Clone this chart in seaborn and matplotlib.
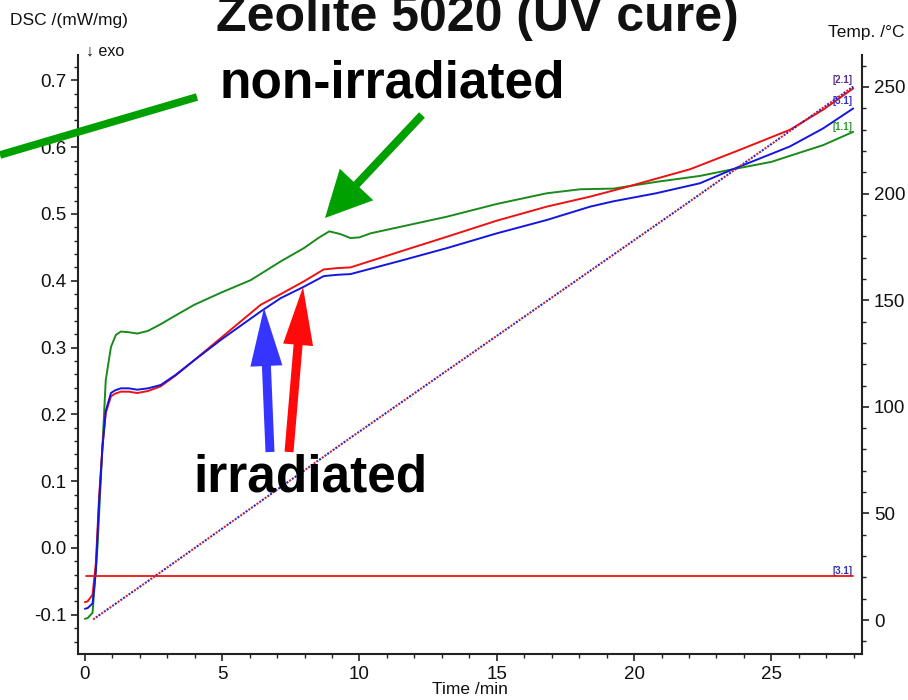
import numpy as np
import pandas as pd
import matplotlib
matplotlib.use("Agg")
import matplotlib.pyplot as plt
import matplotlib.transforms as mtrans
from matplotlib.patches import FancyArrow
from matplotlib.ticker import MultipleLocator
import seaborn as sns

# ---------------- data ----------------
t_green = [0.0, 0.1, 0.28, 0.46, 0.64, 0.76, 0.95, 1.13, 1.31, 1.6, 1.91, 2.3, 2.76, 3.3,
           3.98, 5.0, 6.04, 7.13, 7.98, 8.5, 8.9, 9.3, 9.67, 10.0, 10.4, 13.19, 15.0,
           16.82, 18.04, 19.25, 20.8, 22.4, 23.6, 25.0, 25.67, 26.88, 27.98]
dsc_green = [-0.106, -0.105, -0.097, 0.002, 0.152, 0.251, 0.301, 0.319, 0.324, 0.323, 0.321,
             0.325, 0.335, 0.348, 0.364, 0.383, 0.401, 0.429, 0.449, 0.464, 0.474, 0.470,
             0.464, 0.465, 0.471, 0.496, 0.515, 0.531, 0.537, 0.538, 0.548, 0.557, 0.567,
             0.578, 0.587, 0.603, 0.623]

t_red = [0.0, 0.1, 0.28, 0.4, 0.52, 0.64, 0.76, 0.95, 1.1, 1.31, 1.6, 1.91, 2.3, 2.76, 3.3,
         3.98, 5.0, 6.4, 7.13, 7.97, 8.7, 9.2, 9.67, 11.5, 13.19, 15.0, 16.82, 18.4, 19.6,
         22.04, 23.85, 25.67, 26.88, 27.98]
dsc_red = [-0.081, -0.080, -0.070, -0.023, 0.077, 0.152, 0.202, 0.227, 0.231, 0.234, 0.234,
           0.232, 0.235, 0.242, 0.258, 0.281, 0.316, 0.364, 0.380, 0.399, 0.417, 0.419,
           0.420, 0.444, 0.466, 0.490, 0.511, 0.526, 0.539, 0.567, 0.596, 0.626, 0.656,
           0.688]

t_blue = [0.0, 0.1, 0.28, 0.4, 0.52, 0.64, 0.76, 0.95, 1.1, 1.31, 1.6, 1.91, 2.3, 2.76, 3.3,
          3.98, 5.0, 6.4, 7.13, 7.97, 8.7, 9.2, 9.67, 11.5, 13.19, 15.0, 16.82, 18.4, 19.25,
          20.8, 22.4, 23.6, 25.67, 26.88, 27.98]
dsc_blue = [-0.091, -0.090, -0.083, -0.035, 0.070, 0.150, 0.205, 0.232, 0.236, 0.239, 0.239,
            0.237, 0.239, 0.244, 0.259, 0.281, 0.313, 0.354, 0.374, 0.391, 0.407, 0.409,
            0.410, 0.430, 0.449, 0.471, 0.491, 0.511, 0.519, 0.531, 0.546, 0.567, 0.601,
            0.628, 0.658]

t_temp = [0.3, 2.52, 9.55, 21.67, 27.98]
temp = [0.3, 20.3, 84.4, 193.1, 250.2]

t_iso = [0.04, 27.98]
temp_iso = [20.6, 20.6]

samples = ["[1.1]", "[2.1]", "[3.1]"]
colors = {"[1.1]": "#1a8a1a", "[2.1]": "#ee1111", "[3.1]": "#1515e0"}

title = "Zeolite 5020 (UV cure)"

# ---------------- figure ----------------
sns.set_theme(style="ticks")
plt.rcParams["font.family"] = ["Liberation Sans", "DejaVu Sans"]

W, H = 908, 700
fig = plt.figure(figsize=(W / 100, H / 100), dpi=100)
ax = fig.add_axes([78 / W, 46 / H, (862 - 78) / W, (654 - 55) / H])
ax2 = ax.twinx()

df = pd.concat([
    pd.DataFrame({"time": t_green, "dsc": dsc_green, "sample": "[1.1]"}),
    pd.DataFrame({"time": t_red, "dsc": dsc_red, "sample": "[2.1]"}),
    pd.DataFrame({"time": t_blue, "dsc": dsc_blue, "sample": "[3.1]"}),
])
sns.lineplot(data=df, x="time", y="dsc", hue="sample", palette=colors,
             hue_order=samples, lw=1.4, ax=ax, legend=False, sort=False,
             estimator=None)

tdf = pd.DataFrame({"time": t_temp, "temp": temp})
for c, off in [("#dd2222", 0), ("#2222dd", 1.6), ("#6a2a8a", 3.2)]:
    sns.lineplot(data=tdf, x="time", y="temp", color=c, lw=1.5, ax=ax2,
                 linestyle=(off, (1.0, 3.8)))
idf = pd.DataFrame({"time": t_iso, "temp": temp_iso})
sns.lineplot(data=idf, x="time", y="temp", color="#ee1111", lw=1.3, ax=ax2)

ax.set_xlim(-0.25, 28.3)
ax.set_ylim(-0.1587, 0.738)
ax2.set_ylim(-15.9, 265.0)

ax.set_xlabel("")
ax.set_ylabel("")
ax2.set_xlabel("")
ax2.set_ylabel("")

ax.xaxis.set_major_locator(MultipleLocator(5))
ax.xaxis.set_minor_locator(MultipleLocator(1))
ax.yaxis.set_minor_locator(MultipleLocator(0.02))
ax2.yaxis.set_major_locator(MultipleLocator(50))
ax2.yaxis.set_minor_locator(MultipleLocator(10))
yt = np.round(np.arange(-0.1, 0.71, 0.1), 1)
ax.set_yticks(yt)
ax.set_yticklabels([f"{v:.1f}" for v in yt])

for a in (ax, ax2):
    a.tick_params(which="major", direction="out", length=5, width=1.2,
                  labelsize=13.5, colors="#222222", labelcolor="#111111")
    a.tick_params(which="minor", direction="out", length=3, width=1.0,
                  colors="#222222")
    for s in a.spines.values():
        s.set_linewidth(1.5)
        s.set_color("#222222")
    a.spines["top"].set_visible(False)
ax.spines["right"].set_visible(False)
ax2.spines["left"].set_visible(False)
ax2.spines["bottom"].set_visible(False)

# end labels
lab_kw = dict(fontsize=7, ha="center", va="center", fontweight="bold")
ax.text(27.6, 0.700, "[2.1]", color="#5a2d8a", **lab_kw)
ax.text(27.6, 0.669, "[3.1]", color="#3333cc", **lab_kw)
ax.text(27.6, 0.630, "[1.1]", color="#339933", **lab_kw)
ax.text(27.6, -0.034, "[3.1]", color="#3333aa", **lab_kw)

# axis texts
fig.text(10 / W, 1 - 20 / H, "DSC /(mW/mg)", ha="left", va="center", fontsize=12.5,
         color="#111111")
fig.text(905 / W, 1 - 33 / H, "Temp. /°C", ha="right", va="center", fontsize=12.5,
         color="#111111")
fig.text(470 / W, 1 - 690 / H, "Time /min", ha="center", va="center", fontsize=12.5,
         color="#111111")
fig.text(86 / W, 1 - 51 / H, "↓ exo", ha="left", va="center", fontsize=11.5,
         color="#111111")

# title (partly clipped at the top, as in the reference)
fig.text(477 / W, 1 - 31 / H, title, ha="center", va="baseline", fontsize=36,
         fontweight="bold", color="#111111")

# annotations
fig.text(392 / W, 1 - 98 / H, "non-irradiated", ha="center", va="baseline",
         fontsize=37, fontweight="bold", color="black")
fig.text(310 / W, 1 - 492 / H, "irradiated", ha="center", va="baseline",
         fontsize=37, fontweight="bold", color="black")

ident = mtrans.IdentityTransform()


def arrow(x0, y0, x1, y1, color, width, hw, hl):
    a = FancyArrow(x0, H - y0, x1 - x0, -(y1 - y0), width=width, head_width=hw,
                   head_length=hl, length_includes_head=True, color=color,
                   transform=ident, lw=0)
    fig.add_artist(a)


# green bar off to the left (no head)
fig.add_artist(plt.Line2D([0, 197], [H - 155, H - 97], transform=ident,
                          color="#00a000", lw=5.5, solid_capstyle="butt"))
arrow(422, 115, 325, 218, "#00a000", 8, 46, 46)
arrow(270, 452, 264, 308, "#3535ff", 9, 32, 58)
arrow(289, 452, 303, 287, "#ff0a0a", 9, 30, 58)

fig.savefig("out.png", dpi=100)
